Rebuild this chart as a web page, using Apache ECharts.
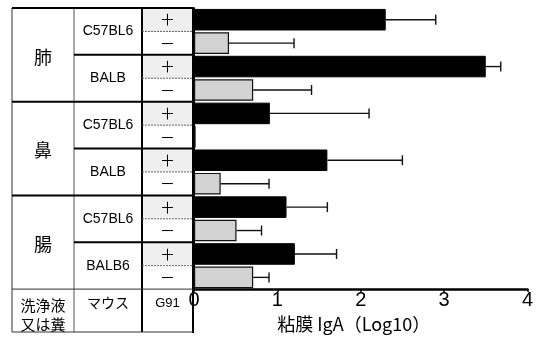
<!DOCTYPE html>
<html>
<head>
<meta charset="utf-8">
<script src="https://cdn.jsdelivr.net/npm/echarts@6/dist/echarts.min.js"></script>
<style>html,body{margin:0;padding:0;background:#fff}#c{width:536px;height:338px}</style>
</head>
<body>
<div id="c"></div>
<script>
// ---- data ----
const organs = ['肺', '鼻', '腸'];
const strains = ['C57BL6', 'BALB', 'C57BL6', 'BALB', 'C57BL6', 'BALB6'];
const g91Labels = ['＋', '－'];
const plusValues = [2.3, 3.5, 0.91, 1.6, 1.11, 1.21];
const plusErr = [2.9, 3.68, 2.1, 2.5, 1.6, 1.71];
const minusValues = [0.42, 0.71, 0.02, 0.32, 0.51, 0.71];
const minusErr = [1.2, 1.41, null, 0.9, 0.81, 0.9];
const xTicks = [0, 1, 2, 3, 4];
const footer = ['洗浄液\n又は糞', 'マウス', 'G91'];
const xTitle = '粘膜 IgA（Log10）';

// ---- build rows ----
const categories = [];
const barData = [];
const errData = [];
strains.forEach((s, i) => {
  const organ = organs[Math.floor(i / 2)];
  categories.push(organ + '|' + s + '|' + g91Labels[0] + i);
  categories.push(organ + '|' + s + '|' + g91Labels[1] + i);
  barData.push({ value: plusValues[i], itemStyle: { color: '#000', borderColor: '#000', borderWidth: 1 } });
  barData.push({ value: minusValues[i], itemStyle: { color: '#d2d2d2', borderColor: '#111', borderWidth: 1.2 } });
  errData.push([plusValues[i], 2 * i, plusErr[i]]);
  if (minusErr[i] != null) errData.push([minusValues[i], 2 * i + 1, minusErr[i]]);
});

const chart = echarts.init(document.getElementById('c'), null, { renderer: 'canvas' });
const GRID = { left: 194, right: 8, top: 8, bottom: 45 };
chart.setOption({
  animation: false,
  grid: GRID,
  xAxis: {
    type: 'value', min: 0, max: 4, interval: 1,
    axisLine: { show: true, lineStyle: { color: '#000', width: 2.5 } },
    axisTick: { show: true, length: 3, lineStyle: { color: '#000', width: 1.5 } },
    splitLine: { show: false },
    axisLabel: {
      color: '#000', fontSize: 20, margin: 1,
      fontFamily: '"Liberation Sans Narrow", "Liberation Sans", sans-serif',
      formatter: v => xTicks.includes(v) ? String(v) : ''
    },
    name: xTitle, nameLocation: 'middle', nameGap: 24,
    nameTextStyle: { color: '#000', fontSize: 18, fontFamily: '"Noto Sans CJK JP", sans-serif', padding: [0, 0, 0, -14] }
  },
  yAxis: {
    type: 'category', inverse: true, data: categories,
    axisLine: { show: true, lineStyle: { color: '#000', width: 2 } },
    axisTick: { show: false }, axisLabel: { show: false }
  },
  series: [
    { type: 'bar', data: barData, barCategoryGap: '8%', z: 2 },
    {
      type: 'custom', z: 3, data: errData,
      renderItem: (params, api) => {
        const s = api.coord([api.value(0), api.value(1)]);
        const e = api.coord([api.value(2), api.value(1)]);
        const ls = { stroke: '#111', lineWidth: 1.4 };
        return {
          type: 'group', children: [
            { type: 'line', shape: { x1: s[0], y1: s[1], x2: e[0], y2: e[1] }, style: ls },
            { type: 'line', shape: { x1: e[0], y1: e[1] - 5, x2: e[0], y2: e[1] + 5 }, style: ls }
          ]
        };
      }
    }
  ]
});

// ---- left table drawn as graphic using the category scale ----
const rowCenter = i => chart.convertToPixel({ yAxisIndex: 0 }, i);
const half = (rowCenter(1) - rowCenter(0)) / 2;
const rowTop = i => rowCenter(i) - half;
const X0 = 12, X1 = 74, X2 = 142, X3 = 193;
const yTop = rowTop(0), yRowsEnd = rowTop(0) + half * 2 * categories.length, yBottom = 332;
const g = [];
const line = (x1, y1, x2, y2, w, c, dash) => g.push({
  type: 'line', shape: { x1, y1, x2, y2 },
  style: { stroke: c || '#000', lineWidth: w, lineDash: dash || null }, z: 10
});
const text = (x, y, t, size, fam) => g.push({
  type: 'text', x, y, z: 11,
  style: { text: t, fill: '#000', font: size + 'px ' + fam, align: 'center', verticalAlign: 'middle', lineHeight: size + 4 }
});
const CJK = '"Noto Sans CJK JP", sans-serif';
const LAT = '"Liberation Sans", Arial, sans-serif';
// + cell backgrounds
for (let i = 0; i < categories.length; i += 2) {
  g.push({ type: 'rect', shape: { x: X2, y: rowTop(i), width: X3 - X2, height: half * 2 }, style: { fill: '#efefef' }, z: 5 });
}
// vertical lines
line(X0, yTop, X0, yBottom, 1, '#333');
line(X1, yTop, X1, yBottom, 1, '#555');
line(X2, yTop, X2, yBottom, 2, '#000');
line(X3, yTop, X3, yBottom + 1, 2, '#000');
// horizontal lines
line(X0, yTop, X3, yTop, 2, '#000');
for (let i = 1; i < categories.length; i++) {
  const y = rowTop(i);
  if (i % 4 === 0) line(X0, y, X3, y, 2, '#000');
  else if (i % 2 === 0) line(X1, y, X3, y, 2, '#000');
  else line(X2, y, X3, y, 1, '#666', [2, 1]);
}
line(X0, yRowsEnd, X3, yRowsEnd, 1, '#333');
line(X0, yBottom, X3, yBottom, 1, '#333');
// texts
organs.forEach((o, k) => text((X0 + X1) / 2, rowTop(4 * k) + half * 4 + 2, o, 18, CJK));
strains.forEach((s, k) => text((X1 + X2) / 2, rowTop(2 * k) + half * 2, s, 14, LAT));
for (let i = 0; i < categories.length; i++) text((X2 + X3) / 2, rowCenter(i), g91Labels[i % 2], 15, CJK);
text((X0 + X1) / 2, (yRowsEnd + yBottom) / 2 + 4, footer[0], 15, CJK);
text((X1 + X2) / 2, yRowsEnd + 14, footer[1], 14, CJK);
text((X2 + X3) / 2, yRowsEnd + 14, footer[2], 13, LAT);
chart.setOption({ graphic: { elements: g } });
</script>
</body>
</html>
